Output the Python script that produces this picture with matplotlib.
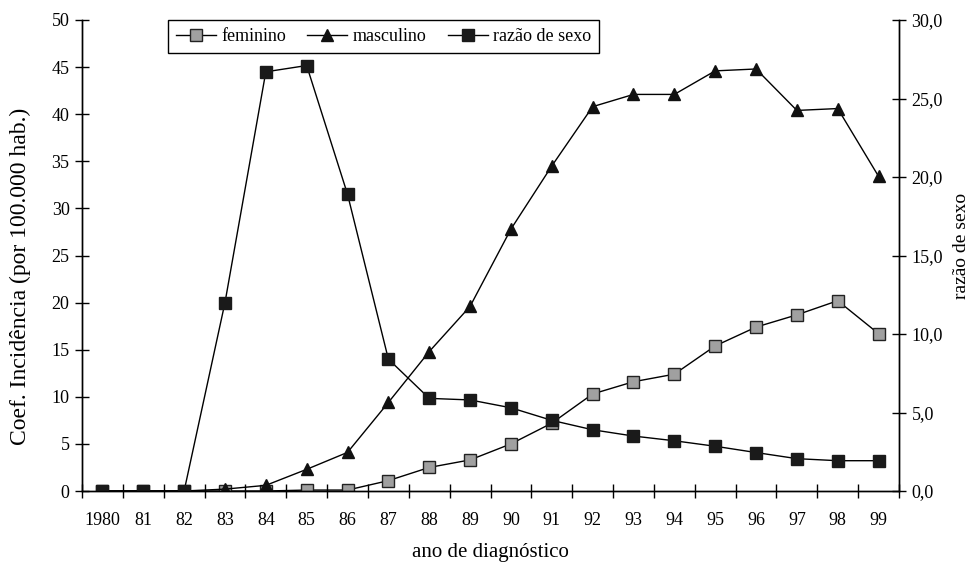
import numpy as np
import matplotlib.pyplot as plt
from matplotlib.ticker import FuncFormatter

plt.rcParams['font.family'] = ['Liberation Serif', 'DejaVu Serif']

# dados
anos = ['1980', '81', '82', '83', '84', '85', '86', '87', '88', '89',
        '90', '91', '92', '93', '94', '95', '96', '97', '98', '99']
feminino = [0, 0, 0, 0, 0, 0.1, 0.1, 1.1, 2.5, 3.3,
            5.0, 7.2, 10.3, 11.6, 12.4, 15.4, 17.4, 18.7, 20.2, 16.7]
masculino = [0, 0, 0, 0.2, 0.6, 2.3, 4.1, 9.4, 14.8, 19.6,
             27.8, 34.5, 40.8, 42.1, 42.1, 44.6, 44.8, 40.4, 40.6, 33.4]
razao = [0, 0, 0, 12.0, 26.7, 27.1, 18.9, 8.4, 5.9, 5.8,
         5.3, 4.5, 3.9, 3.5, 3.2, 2.85, 2.45, 2.06, 1.93, 1.93]

x = np.arange(len(anos))

fig = plt.figure(figsize=(9.71, 5.62), dpi=100)
ax = fig.add_axes([82/971, 1 - 491/562, 817/971, 471/562])
ax2 = ax.twinx()

l1, = ax.plot(x, feminino, color='black', lw=1, marker='s', ms=8,
              mfc='#a0a0a0', mec='#222222', mew=1, label='feminino')
l2, = ax.plot(x, masculino, color='black', lw=1, marker='^', ms=8,
              mfc='#111111', mec='#111111', label='masculino')
l3, = ax2.plot(x, razao, color='black', lw=1, marker='s', ms=8,
               mfc='#1a1a1a', mec='#1a1a1a', label='razão de sexo')

ax.set_xlim(-0.5, len(anos) - 0.5)
ax.set_ylim(0, 50)
ax2.set_ylim(0, 30)
ax.set_yticks(np.arange(0, 51, 5))
ax2.set_yticks(np.arange(0, 31, 5))
ax2.yaxis.set_major_formatter(FuncFormatter(lambda v, p: f'{v:.1f}'.replace('.', ',')))

# categorias: rotulos no centro, marcas nas divisas
ax.set_xticks(x)
ax.set_xticklabels(anos)
ax.set_xticks(np.arange(-0.5, len(anos), 1), minor=True)
ax.tick_params(axis='x', which='major', length=0, pad=15, labelsize=13)
ax.tick_params(axis='x', which='minor', direction='inout', length=10, width=1)
ax.tick_params(axis='y', direction='inout', length=10, width=1, labelsize=13, pad=4)
ax2.tick_params(axis='y', direction='inout', length=10, width=1, labelsize=13, pad=4)

for a in (ax, ax2):
    a.spines['top'].set_visible(False)
    for s in ('left', 'right', 'bottom'):
        a.spines[s].set_linewidth(1)

ax.set_ylabel('Coef. Incidência (por 100.000 hab.)', fontsize=17)
ax.yaxis.set_label_coords(-0.063, 0.455)
ax2.set_ylabel('razão de sexo', fontsize=14)
ax2.yaxis.set_label_coords(1.066, 0.52)
ax.set_xlabel('ano de diagnóstico', fontsize=15, labelpad=10)

leg = ax2.legend(handles=[l1, l2, l3], ncol=3, loc='upper left',
                 bbox_to_anchor=(0.105, 1.0), borderaxespad=0,
                 fancybox=False, edgecolor='black', framealpha=1,
                 fontsize=13, handlelength=2.2, columnspacing=1.2,
                 handletextpad=0.3, borderpad=0.45)
leg.get_frame().set_linewidth(1)

fig.savefig('out.png', dpi=100)
